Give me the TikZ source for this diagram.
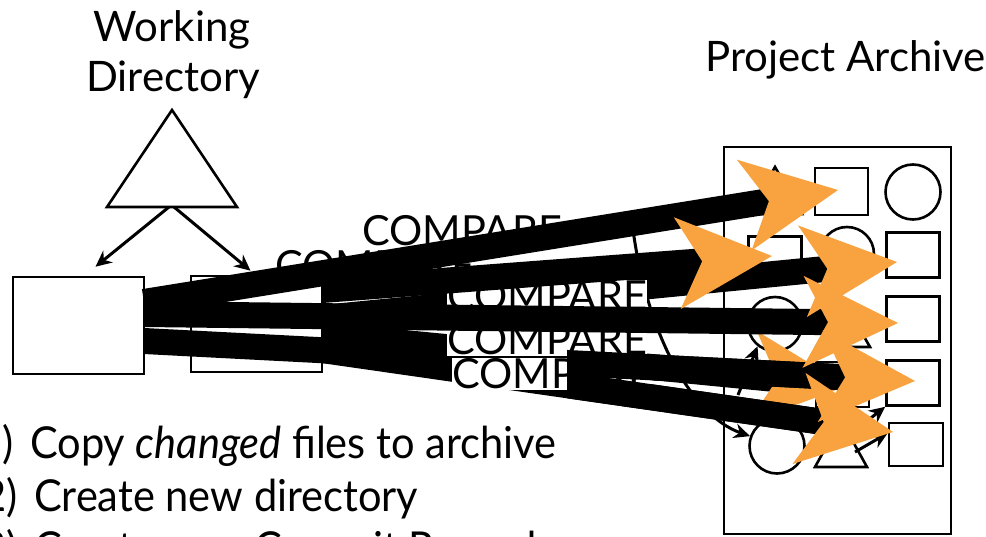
\documentclass[tikz,border=0pt]{standalone}
\usepackage{fontspec}
\setmainfont{Lato}
\newfontfamily\narrowlato[FakeStretch=0.945]{Lato}
\usetikzlibrary{calc,arrows.meta}
\definecolor{orng}{HTML}{F9A340}
\tikzset{
  lbl/.style={font=\fontsize{42}{48}\selectfont, inner sep=0pt},
  steptext/.style={font=\narrowlato\fontsize{44}{50}\selectfont, inner sep=0pt, anchor=base west},
  cmp/.style={font=\fontsize{41.5}{48}\selectfont, fill=white, inner sep=0.5pt},
  wbox/.style={draw, line width=2.6pt, fill=white, inner sep=0pt},
  item/.style={draw, line width=2.6pt, fill=white, inner sep=0pt},
  sq/.style={item, minimum width=53pt, minimum height=45pt},
  ci/.style={item, circle, minimum size=55pt},
  thinarrow/.style={line width=3pt, -{Stealth[length=16pt,width=15pt]}},
  bar/.style={line width=26pt},
  head/.style={fill=orng},
}
\newcommand{\fathead}[2]{\fill[head] (#2) -- ($(#2)!95pt!(#1)!46pt!90:(#2)$) -- ($(#2)!70pt!(#1)$) -- ($(#2)!95pt!(#1)!46pt!-90:(#2)$) -- cycle;}
\newcommand{\fatbar}[2]{\draw[bar] (#1) -- ($(#2)!60pt!(#1)$);}
\begin{document}
\begin{tikzpicture}[x=1pt,y=-1pt]
\useasboundingbox (0,0) rectangle (986,537);
\clip (0,0) rectangle (986,537);
% titles
\node[lbl, anchor=base] (wd1) at (172,42) {Working};
\node[lbl, anchor=base] (wd2) at (173,92) {Directory};
\node[lbl, anchor=base west] (pa) at (705,72) {Project Archive};
% working directory triangle
\coordinate (wdtop) at (172,110);
\coordinate (wdl) at (107,207);
\coordinate (wdr) at (237,207);
\coordinate (wdb) at (172,207);
\draw[line width=2.6pt, line join=miter] (wdtop) -- (wdl) -- (wdr) -- cycle;
% boxes
\node[wbox, minimum width=131pt, minimum height=97pt] (boxa) at (78.5,325.5) {};
\node[wbox, minimum width=131pt, minimum height=96pt] (boxb) at (256.5,324) {};
\draw[thinarrow] ($(wdb)+(-3,0)$) -- ($(boxa.north)+(17,-9)$);
\draw[thinarrow] ($(wdb)+(2,0)$) -- ($(boxb.north)+(-6,-4)$);
% archive
\node[wbox, line width=2.8pt, minimum width=227pt, minimum height=387pt] (arch) at (837.5,340.5) {};
\draw[item, line join=miter] (775,167) -- (748,214) -- (802,214) -- cycle;
\node[sq, minimum height=47pt] (r1c2) at (841.5,191.5) {};
\node[ci] (r1c3) at (913,192) {};
\node[sq] (r2c1) at (775,259) {};
\node[ci, minimum size=54pt] (r2c2) at (847,254) {};
\node[sq] (r2c3) at (913,255) {};
\node[ci, minimum size=54pt] (r3c1) at (775,324) {};
\draw[item, line join=miter] (843,300) -- (816,347) -- (870,347) -- cycle;
\node[sq] (r3c3) at (913,319) {};
\node[sq] (r4c2) at (842.5,384.5) {};
\node[sq] (r4c3) at (913,383) {};
\node[ci] (r5c1) at (777,446) {};
\draw[item, line join=miter] (841,420) -- (815,467) -- (867,467) -- cycle;
\node[sq, minimum width=54pt, minimum height=43pt] (r5c3) at (916,444.5) {};
% thin arrows
\coordinate (ta) at (632,222);
\coordinate (tb) at (738,395);
\coordinate (tc) at (858,428);
\coordinate (td) at (855,452);
\draw[thinarrow] (ta) .. controls (645,330) and (690,415) .. (r5c1.160);
\draw[thinarrow] (tb) -- (r3c1.232);
\draw[thinarrow] (tc) -- (r4c3.south west);
\draw[thinarrow] (td) -- ($(r5c3.north west)!0.25!(r5c3.south west)$);
% fat arrows
\coordinate (s1) at (144,302); \coordinate (t1) at (838,190);
\coordinate (s2) at (322,290); \coordinate (t2) at (772,256);
\coordinate (s3) at (322,318); \coordinate (t3) at (897,262);
\coordinate (s4) at (144,314); \coordinate (t4) at (898,323);
\coordinate (s5) at (144,341); \coordinate (t5) at (915,381);
\coordinate (s6) at (322,335); \coordinate (t6) at (847,386);
\coordinate (s7) at (322,350); \coordinate (t7) at (893,432);
\fatbar{s3}{t3}
\fatbar{s6}{t6}
\fathead{s6}{t6}
\fatbar{s5}{t5}
\fatbar{s7}{t7}
\node[cmp] (c4) at (547,340) {COMPARE};
\node[cmp] (c5) at (552,374) {COMPARE};
\begin{scope}
  \clip (567,0) rectangle (986,537);
  \fatbar{s5}{t5}
  \fatbar{s7}{t7}
\end{scope}
\node[cmp] (c2) at (375,266) {COMPARE};
\node[cmp] (c3) at (547,296) {COMPARE};
\fatbar{s2}{t2}
\node[cmp] (c1) at (462,231) {COMPARE};
\fatbar{s1}{t1}
\fatbar{s4}{t4}
\fathead{s1}{t1}
\fathead{s2}{t2}
\fathead{s3}{t3}
\fathead{s4}{t4}
\fathead{s5}{t5}
\fathead{s7}{t7}
% steps
\node[steptext] (st1) at (-22,458) {1)\hspace{6pt} Copy \textit{changed} files to archive};
\node[steptext] (st2) at (-18,511) {2)\hspace{6pt} Create new directory};
\node[steptext] (st3) at (-18,563) {3)\hspace{6pt} Create new Commit Record};
\end{tikzpicture}
\end{document}
